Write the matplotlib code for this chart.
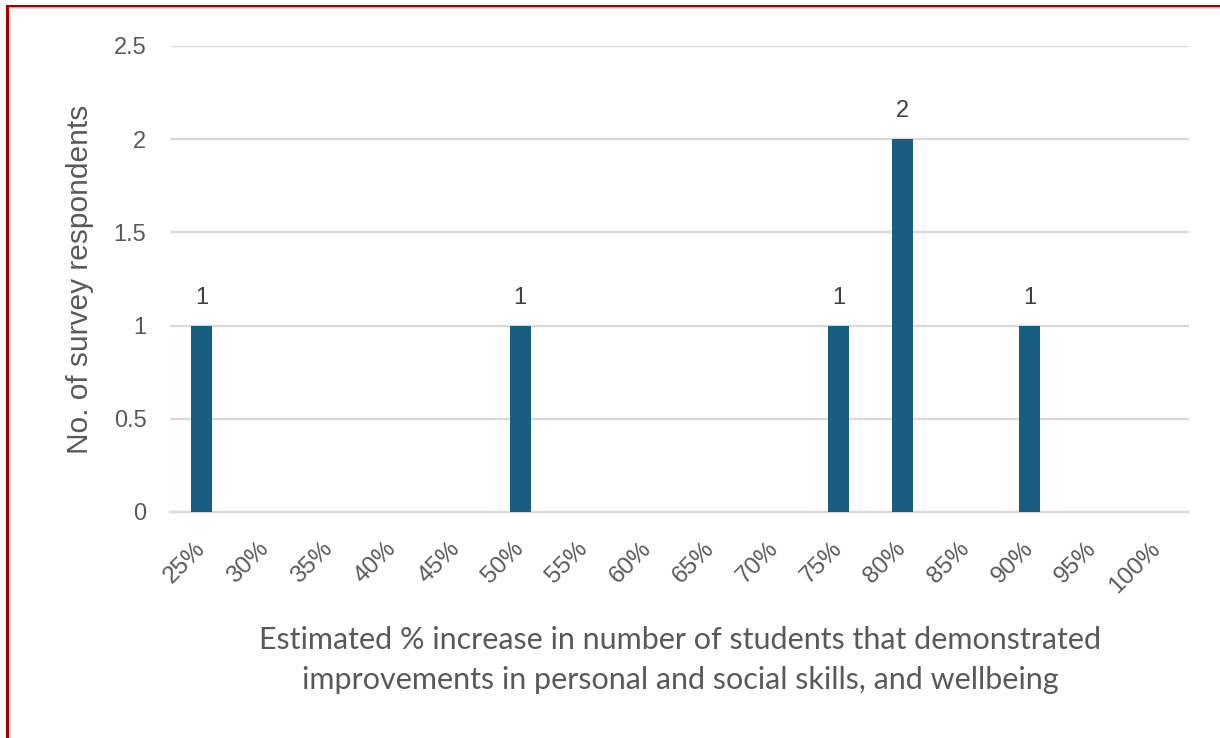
import matplotlib
matplotlib.use("Agg")
import matplotlib.pyplot as plt
from matplotlib.patches import Rectangle
import numpy as np

categories = ["25%", "30%", "35%", "40%", "45%", "50%", "55%", "60%", "65%", "70%",
              "75%", "80%", "85%", "90%", "95%", "100%"]
values = [1, 0, 0, 0, 0, 1, 0, 0, 0, 0, 1, 2, 0, 1, 0, 0]
y_ticks = [0, 0.5, 1, 1.5, 2, 2.5]
y_tick_labels = ["0", "0.5", "1", "1.5", "2", "2.5"]
x_label = ("Estimated % increase in number of students that demonstrated\n"
           "improvements in personal and social skills, and wellbeing")
y_label = "No. of survey respondents"

W, H = 1220, 738
fig = plt.figure(figsize=(W / 100, H / 100), dpi=100)
fig.patch.set_facecolor("white")

# frame border (red on left/top, light grey inner)
fig.add_artist(Rectangle((7 / W, -0.1), 2.0, 1.1 - 6 / H, transform=fig.transFigure,
                         fill=False, edgecolor="#a00000", linewidth=2.2))
fig.add_artist(Rectangle((9.5 / W, -0.1), 2.0, 1.1 - 8.5 / H, transform=fig.transFigure,
                         fill=False, edgecolor="#d8d8d8", linewidth=1.2))

ax = fig.add_axes([170 / W, (H - 512) / H, (1189 - 170) / W, (512 - 46) / H])
x = np.arange(len(categories))
bars = ax.bar(x, values, width=0.33, color="#175e82", zorder=3)
for xi, v in zip(x, values):
    if v > 0:
        ax.text(xi, v + 0.09, str(v), ha="center", va="bottom", fontsize=17,
                color="#404040", family="Liberation Sans")

ax.set_xlim(-0.5, len(categories) - 0.5)
ax.set_ylim(0, 2.5)
ax.set_yticks(y_ticks)
ax.set_yticklabels(y_tick_labels, fontsize=17, color="#595959", family="Liberation Sans")
ax.set_xticks(x)
ax.set_xticklabels(categories, fontsize=17.5, color="#595959", family="Liberation Sans",
                   rotation=45, ha="right", va="center", rotation_mode="anchor")
ax.tick_params(axis="both", length=0)
ax.tick_params(axis="y", pad=17)
ax.tick_params(axis="x", pad=24)
ax.yaxis.grid(True, color="#d9d9d9", linewidth=1.6, zorder=0)
for s in ["top", "right", "left"]:
    ax.spines[s].set_visible(False)
ax.spines["bottom"].set_color("#d9d9d9")
ax.spines["bottom"].set_linewidth(1.6)

ax.set_ylabel(y_label, fontsize=21.5, color="#595959", family="Liberation Sans", labelpad=14)
fig.text(680 / W, 1 - 660 / H, x_label, ha="center", va="center", fontsize=22,
         color="#595959", family="Lato", linespacing=1.55)

fig.savefig("out.png", dpi=100, facecolor="white")
